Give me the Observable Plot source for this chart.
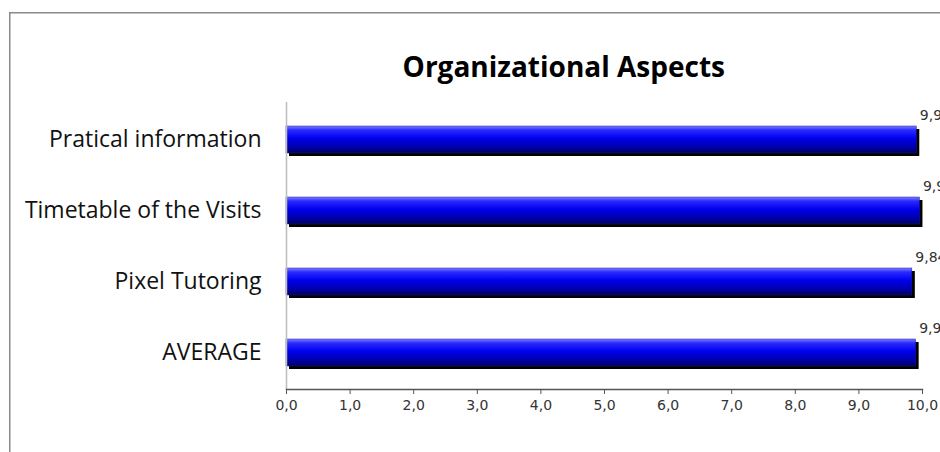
<!DOCTYPE html>
<html>
<head>
<meta charset="utf-8">
<script src="https://cdn.jsdelivr.net/npm/d3@7"></script>
<script src="https://cdn.jsdelivr.net/npm/@observablehq/plot@0.6"></script>
<style>
  html, body { margin: 0; padding: 0; background: #fff; overflow: hidden; }
  #wrap { position: relative; width: 940px; height: 452px; overflow: hidden; background: #fff; }
  #border { position: absolute; left: 9px; top: 12px; width: 931px; height: 440px; box-shadow: inset 1.5px 1.5px 0 #8a8a8a; pointer-events: none; }
  #chart { position: absolute; left: 0; top: 0; }
</style>
</head>
<body>
<div id="wrap"><div id="border"></div><div id="chart"></div></div>
<script>
const title = "Organizational Aspects";
const categories = ["Pratical information", "Timetable of the Visits", "Pixel Tutoring", "AVERAGE"];
const values = [9.91, 9.96, 9.84, 9.90];
const xTicks = [0, 1, 2, 3, 4, 5, 6, 7, 8, 9, 10];

const data = categories.map((c, i) => ({category: c, value: values[i]}));
const fmt = d => d.toFixed(1).replace(".", ",");
const fmt2 = d => d.toFixed(2).replace(".", ",");

const plot = Plot.plot({
  width: 940,
  height: 452,
  marginTop: 102,
  marginBottom: 63,
  marginLeft: 286,
  marginRight: 18,
  style: {background: "transparent", overflow: "hidden"},
  x: {domain: [0, 10], ticks: xTicks, tickFormat: fmt, label: null},
  y: {domain: categories, padding: 0, label: null},
  marks: [
    Plot.barX(data, {x: "value", y: "category", insetTop: 22, insetBottom: 22, dx: 3, dy: 3, fill: "#000"}),
    Plot.barX(data, {x: "value", y: "category", insetTop: 22, insetBottom: 22, fill: "url(#barGrad)", stroke: "#1a1aa0", strokeWidth: 0.5}),
    Plot.ruleX([0], {stroke: "#bdbdbd", strokeWidth: 1.5}),
    Plot.frame({anchor: "bottom", stroke: "#555", strokeWidth: 1.5}),
    Plot.axisX({ticks: xTicks, tickFormat: fmt, tickSize: 5, tickPadding: 6, fontSize: 14, fill: "#333", stroke: "#555", fontFamily: "DejaVu Sans", style: {letterSpacing: "0.4px"}}),
    Plot.axisY({tickSize: 0, tickPadding: 25, fontSize: 23, fill: "#111", fontFamily: "Open Sans"}),
    Plot.text(data, {x: "value", y: "category", text: d => fmt2(d.value), textAnchor: "start", dx: 3, dy: -24, fontSize: 14, fill: "#333", fontFamily: "DejaVu Sans"}),
    Plot.text([title], {frameAnchor: "top", x: 4.36, dy: -45, fontSize: 28, fontWeight: "bold", fill: "#000", fontFamily: "Open Sans"})
  ]
});

const svgns = "http://www.w3.org/2000/svg";
const defs = document.createElementNS(svgns, "defs");
defs.innerHTML = `<linearGradient id="barGrad" x1="0" y1="0" x2="0" y2="1">
  <stop offset="0" stop-color="#7f7fff"/>
  <stop offset="0.15" stop-color="#2a2aff"/>
  <stop offset="0.45" stop-color="#0000ee"/>
  <stop offset="0.85" stop-color="#00009a"/>
  <stop offset="1" stop-color="#000050"/>
</linearGradient>`;
plot.insertBefore(defs, plot.firstChild);
document.getElementById("chart").appendChild(plot);
</script>
</body>
</html>
